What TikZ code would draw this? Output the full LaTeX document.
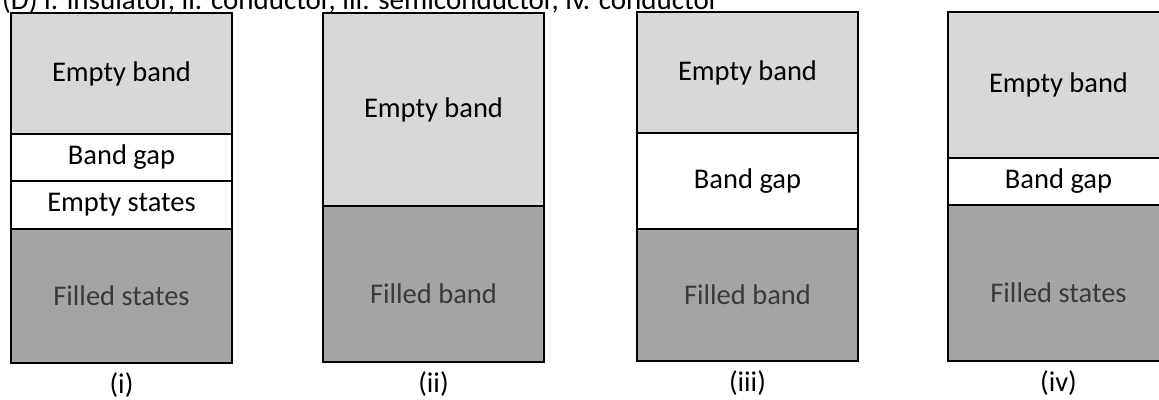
\documentclass[tikz,border=0pt]{standalone}
\usepackage{fontspec}
\setmainfont{Carlito}
\usetikzlibrary{positioning}
\definecolor{emptyfill}{RGB}{216,216,216}
\definecolor{filledfill}{RGB}{164,164,164}
\definecolor{filledtext}{RGB}{58,58,58}

\begin{document}
\begin{tikzpicture}[
          x=1pt, y=1pt,
          node distance=0pt,
          layer/.style={draw, line width=1.1pt, outer sep=0pt, minimum width=221pt,
                        font=\fontsize{28.5}{34}\selectfont, align=center},
          emptyband/.style={layer, fill=emptyfill},
          gapband/.style={layer, fill=white},
          filledband/.style={layer, fill=filledfill, text=filledtext},
          caption/.style={font=\fontsize{28.5}{34}\selectfont},
        ]
        \path[use as bounding box, clip] (0,0) rectangle (1159,-399);
        \node[anchor=base west, inner sep=0pt, font=\fontsize{29}{34}\selectfont] (title) at (2,-9)
          {(D) i. insulator, ii. conductor, iii. semiconductor, iv. conductor};
        % (i)
        \node[emptyband, minimum height=121pt, anchor=north west] (i-top) at (11,-13) {Empty band};
        \node[gapband, minimum height=47pt, below=of i-top] (i-gap) {Band gap};
        \node[gapband, minimum height=48pt, below=of i-gap] (i-mid) {Empty states};
        \node[filledband, minimum height=134pt, below=of i-mid] (i-bot) {Filled states};
        \node[caption, below=6pt of i-bot] (i-lab) {(i)};
        % (ii)
        \node[emptyband, minimum height=193pt, anchor=north west] (ii-top) at (323,-13) {Empty band};
        \node[filledband, minimum height=156pt, text height=40pt, below=of ii-top] (ii-bot) {Filled band};
        \node[caption, below=6pt of ii-bot] (ii-lab) {(ii)};
        % (iii)
        \node[emptyband, minimum height=121pt, anchor=north west] (iii-top) at (637,-12) {Empty band};
        \node[gapband, minimum height=96pt, below=of iii-top] (iii-gap) {Band gap};
        \node[filledband, minimum height=132pt, below=of iii-gap] (iii-bot) {Filled band};
        \node[caption, below=6pt of iii-bot] (iii-lab) {(iii)};
        % (iv)
        \node[emptyband, minimum height=146pt, anchor=north west] (iv-top) at (948,-12) {Empty band};
        \node[gapband, minimum height=47pt, below=of iv-top] (iv-gap) {Band gap};
        \node[filledband, minimum height=156pt, text height=40pt, below=of iv-gap] (iv-bot) {Filled states};
        \node[caption, below=6pt of iv-bot] (iv-lab) {(iv)};
      \end{tikzpicture}
\end{document}
